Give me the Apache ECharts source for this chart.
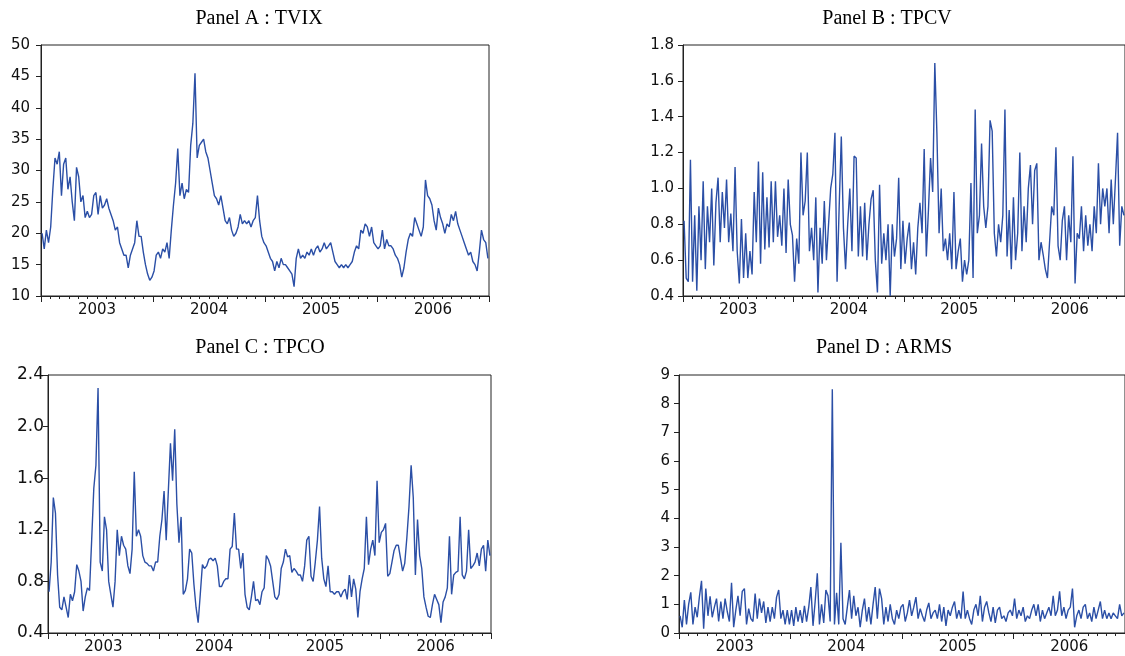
<!DOCTYPE html>
<html><head><meta charset="utf-8">
<script src="https://cdn.jsdelivr.net/npm/echarts@6/dist/echarts.min.js"></script>
<style>html,body{margin:0;padding:0;background:#fff}#c{width:1125px;height:656px}</style>
</head><body><div id="c"></div>
<script>
// ---- data (weekly observations, Jan 2003 – Dec 2006) ----
const yearLabels = ['2003', '2004', '2005', '2006'];
const startYear = 2003;
const perYear = 52;

const tvix = [
  20,17.5,20.5,18.5,21,27,32,31,33,26,31,32,27,29,25,22,30.5,29,25,26,22.5,23.5,22.5,23,26,26.5,23,26,24,24.5,25.5,24,23,22,20.5,21,18.5,17.5,16.5,16.5,14.5,16.5,17.5,18.5,22,19.5,19.5,17,15,13.5,12.5,13,
  14,16.5,17,16,17.5,17,18.5,16,20.5,24.5,28,33.5,26,28,25.5,27,26.5,34,37.5,45.5,32,34,34.5,35,33,32,30,28,26,25.5,24.5,26,24,22,21.5,22.5,20.5,19.5,20,21,23,21.5,22,21.5,22,21,22,22.5,26,22,19.5,18.5,
  18,17,16,15.5,14,15.5,14.5,16,15,15,14.5,14,13.5,11.5,16,17.5,16,16.5,16,17,16.5,17.5,16.5,17.5,18,17,17.5,18.5,17.5,18,18.5,17,15.5,15,14.5,15,14.5,15,14.5,15,15.5,17,18,17.5,20.5,20,21.5,21,19.5,21,18.5,18,
  17.5,18,20.5,17.5,19,18,18,17.5,16.5,16,15,13,14.5,17,19,20,19.5,22.5,21.5,20.5,19.5,21,28.5,26,25.5,24.5,22,20.5,24,22.5,21.5,20,21.5,21,23,22,23.5,21.5,20.5,19.5,18.5,17.5,16.5,17,15.5,15,14,17,20.5,19,18.5,16
];
const tpcv = [
  0.82,0.5,0.48,1.16,0.48,0.85,0.43,0.9,0.6,1.04,0.55,0.9,0.7,1.0,0.57,0.92,1.06,0.7,0.98,0.78,1.05,0.7,0.86,0.65,1.12,0.65,0.47,0.83,0.5,0.75,0.5,0.65,0.52,0.98,0.7,1.15,0.58,1.09,0.66,0.95,0.67,1.04,0.7,1.04,0.73,0.85,0.68,1.0,0.64,1.05,0.8,0.74,
  0.48,0.72,0.58,1.2,0.85,0.93,1.2,0.65,0.78,0.6,0.95,0.42,0.78,0.58,0.93,0.6,0.8,1.0,1.08,1.31,0.48,0.9,1.29,0.78,0.55,0.8,1.0,0.65,1.18,1.17,0.62,0.9,0.62,0.92,0.6,0.8,0.94,0.99,0.6,0.42,1.02,0.58,0.75,0.6,0.8,0.4,0.8,0.62,0.72,1.06,0.55,0.82,
  0.58,0.72,0.81,0.55,0.7,0.52,0.78,0.92,0.75,1.22,0.62,0.88,1.17,0.98,1.7,1.3,0.75,1.0,0.65,0.72,0.6,0.75,0.55,0.98,0.55,0.65,0.72,0.48,0.6,0.52,0.6,1.03,0.5,1.44,0.75,0.85,1.25,0.9,0.78,0.9,1.38,1.32,0.75,0.62,0.8,0.7,0.85,1.44,0.62,0.88,0.55,0.95,
  0.6,0.75,1.2,0.65,0.9,0.7,1.0,1.13,0.8,1.1,1.14,0.6,0.7,0.63,0.55,0.5,0.7,0.9,0.85,1.23,0.68,0.6,0.82,0.9,0.6,0.85,0.7,1.18,0.47,0.75,0.72,0.9,0.65,0.85,0.68,0.8,0.65,0.9,0.75,1.14,0.8,1.0,0.9,1.0,0.75,1.05,0.8,1.05,1.31,0.68,0.9,0.85
];
const tpco = [
  0.72,0.95,1.45,1.33,0.85,0.6,0.58,0.68,0.6,0.52,0.7,0.65,0.72,0.93,0.88,0.8,0.57,0.68,0.75,0.73,1.12,1.52,1.7,2.3,0.95,0.88,1.3,1.2,0.8,0.7,0.6,0.8,1.2,1.0,1.15,1.08,1.05,0.92,0.86,1.05,1.65,1.15,1.2,1.15,1.0,0.95,0.94,0.92,0.92,0.88,0.95,0.95,
  1.15,1.28,1.5,1.12,1.5,1.87,1.58,1.98,1.4,1.1,1.3,0.7,0.73,0.82,1.05,1.02,0.78,0.6,0.48,0.7,0.93,0.9,0.92,0.97,0.98,0.96,0.98,0.92,0.76,0.76,0.8,0.82,0.82,1.05,1.07,1.33,1.05,1.05,0.9,1.02,0.7,0.6,0.58,0.68,0.8,0.65,0.66,0.62,0.72,0.75,1.0,0.97,
  0.92,0.8,0.68,0.66,0.7,0.9,0.95,1.05,0.99,1.0,0.87,0.9,0.88,0.85,0.85,0.8,0.92,1.12,1.15,0.84,0.8,0.95,1.12,1.38,0.98,0.82,0.76,0.92,0.72,0.72,0.7,0.72,0.72,0.68,0.72,0.74,0.66,0.85,0.68,0.82,0.74,0.52,0.72,0.82,0.9,1.3,0.93,1.05,1.12,1.0,1.58,1.1,
  1.18,1.2,1.25,0.84,0.86,0.95,1.04,1.08,1.08,0.98,0.88,0.94,1.14,1.38,1.7,1.45,0.85,1.28,1.0,0.9,0.68,0.6,0.53,0.52,0.62,0.7,0.66,0.62,0.48,0.64,0.68,0.75,1.15,0.7,0.85,0.87,0.88,1.3,0.85,0.82,0.88,1.2,0.9,0.92,0.95,1.02,0.92,1.05,1.08,0.88,1.12,1.0
];
const arms = [
  0.6,0.2,1.15,0.3,1.0,1.42,0.3,0.9,0.55,1.25,1.82,0.15,1.55,0.6,1.28,0.55,0.9,1.2,0.4,1.1,0.5,1.2,0.75,0.4,1.75,0.2,0.8,1.3,0.6,1.45,1.55,0.3,0.85,0.5,0.4,1.38,0.5,1.2,0.7,1.1,0.35,0.9,0.4,0.9,0.5,1.25,1.5,0.5,0.8,0.3,0.8,0.3,
  0.8,0.25,0.9,0.4,0.8,0.35,0.95,0.4,0.9,1.6,0.25,1.1,2.08,0.3,1.0,0.35,1.5,1.3,0.4,8.5,0.3,1.4,0.3,3.15,0.5,0.3,0.9,1.5,0.5,1.3,0.6,0.9,0.2,0.8,1.2,0.4,0.9,0.3,1.0,1.6,0.5,1.55,1.2,0.3,0.9,0.4,1.0,0.5,0.3,0.8,0.5,0.9,
  1.0,0.4,0.7,1.15,0.6,0.9,1.25,0.5,0.85,0.6,0.4,0.8,1.05,0.5,0.7,0.8,0.5,1.0,0.4,0.9,0.25,0.8,0.6,0.9,1.1,0.5,0.8,0.5,1.45,0.5,0.8,0.5,0.3,0.8,1.0,0.6,1.3,0.4,0.9,1.1,0.7,0.4,0.9,0.35,0.8,0.9,0.5,0.6,0.4,0.7,0.8,0.6,
  1.2,0.5,0.8,0.6,0.9,0.4,0.6,0.5,0.8,1.0,0.6,1.0,0.4,0.8,0.5,0.7,0.9,0.6,1.3,0.6,0.8,1.45,0.6,0.9,0.5,0.8,0.9,1.55,0.2,0.6,0.8,0.5,0.9,1.0,0.5,0.7,0.4,0.9,0.5,0.8,1.1,0.5,0.8,0.5,0.7,0.5,0.7,0.6,0.5,1.0,0.6,0.7
];

// ---- layout / style ----
const panels = [
  { title: 'Panel A : TVIX', values: tvix, min: 10, max: 50, interval: 5, dec: 0,
    grid: { left: 41, top: 45, width: 448, height: 251 }, tx: 259, ty: 19, ylab: 15, ymargin: 11 },
  { title: 'Panel B : TPCV', values: tpcv, min: 0.4, max: 1.8, interval: 0.2, dec: 1,
    grid: { left: 683, top: 45, width: 450, height: 251 }, tx: 887, ty: 19, ylab: 15, ymargin: 9 },
  { title: 'Panel C : TPCO', values: tpco, min: 0.4, max: 2.4, interval: 0.4, dec: 1,
    grid: { left: 48, top: 375, width: 443, height: 258 }, tx: 260, ty: 348, ylab: 17, ymargin: 4 },
  { title: 'Panel D : ARMS', values: arms, min: 0, max: 9, interval: 1, dec: 0,
    grid: { left: 679, top: 375, width: 448, height: 258 }, tx: 884, ty: 348, ylab: 15, ymargin: 9 }
];
const lineColor = '#2b4fa6';
const axisColor = '#222';
const labelFont = 'DejaVu Sans';

const grids = [], xAxes = [], yAxes = [], series = [], graphics = [];
panels.forEach((p, i) => {
  grids.push(Object.assign({ show: true, borderColor: axisColor, borderWidth: 1, backgroundColor: 'transparent' }, p.grid));
  // value axis in years: ticks at year boundaries, monthly minor ticks
  xAxes.push({
    type: 'value', gridIndex: i, position: 'bottom', min: startYear, max: startYear + yearLabels.length, interval: 1,
    axisLine: { show: true, onZero: false, lineStyle: { color: axisColor, width: 1 } },
    axisTick: { show: true, length: 6, lineStyle: { color: axisColor } },
    minorTick: { show: true, splitNumber: 12, length: 3, lineStyle: { color: axisColor } },
    axisLabel: { show: false }, splitLine: { show: false }, minorSplitLine: { show: false }
  });
  // category axis only for centred year labels
  xAxes.push({
    type: 'category', gridIndex: i, position: 'bottom', data: yearLabels, boundaryGap: true,
    axisLine: { show: false }, axisTick: { show: false }, splitLine: { show: false },
    axisLabel: { show: true, margin: 7, fontFamily: labelFont, fontSize: 15, color: '#111' }
  });
  yAxes.push({
    type: 'value', gridIndex: i, min: p.min, max: p.max, interval: p.interval,
    axisLine: { show: true, lineStyle: { color: axisColor, width: 1 } },
    axisTick: { show: true, length: 5, lineStyle: { color: axisColor } },
    axisLabel: { margin: p.ymargin, fontFamily: labelFont, fontSize: p.ylab, color: '#111',
      formatter: v => v.toFixed(p.dec) },
    splitLine: { show: false }
  });
  series.push({
    type: 'line', xAxisIndex: 2 * i, yAxisIndex: i, showSymbol: false, symbol: 'none',
    lineStyle: { color: lineColor, width: 1.4 }, itemStyle: { color: lineColor },
    data: p.values.map((v, k) => [startYear + (k + 0.5) / perYear, v]),
    animation: false, silent: true
  });
  graphics.push({
    type: 'text', x: p.tx, y: p.ty,
    style: { text: p.title, fill: '#000', font: '20px "Liberation Serif"', textAlign: 'center', textVerticalAlign: 'middle' }
  });
});

const chart = echarts.init(document.getElementById('c'), null, { renderer: 'canvas' });
chart.setOption({
  backgroundColor: '#fff', animation: false,
  grid: grids, xAxis: xAxes, yAxis: yAxes, series: series, graphic: graphics
});
</script></body></html>
